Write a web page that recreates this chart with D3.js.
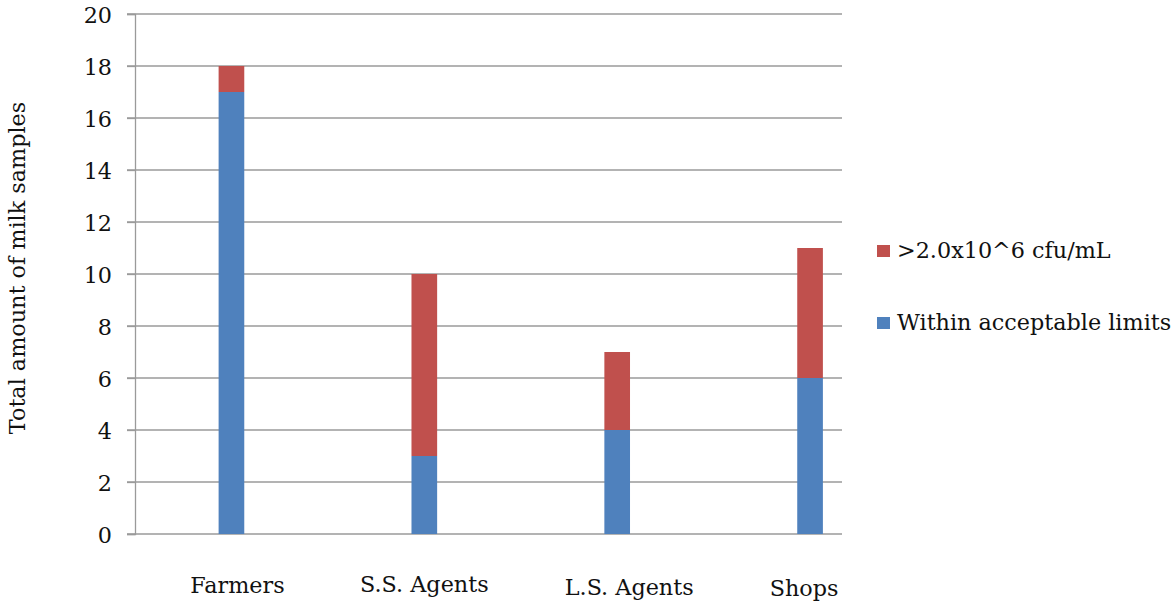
<!DOCTYPE html>
<html><head><meta charset="utf-8">
<script src="https://cdn.jsdelivr.net/npm/d3@7"></script>
<style>
html,body{margin:0;padding:0;background:#fff;}
svg{display:block;font-family:"DejaVu Serif",serif;}
</style></head>
<body>
<svg id="chart" width="1175" height="602"></svg>
<script>
const categories = ["Farmers", "S.S. Agents", "L.S. Agents", "Shops"];
const withinLimits = [17, 3, 4, 6];
const overLimit = [1, 7, 3, 5];
const seriesNames = ["Within acceptable limits", ">2.0x10^6 cfu/mL"];
const seriesColors = ["#4F81BD", "#C0504D"];
const yTicks = [0, 2, 4, 6, 8, 10, 12, 14, 16, 18, 20];
const yTitle = "Total amount of milk samples";

const svg = d3.select("#chart");
const fontSize = 22.3;
const textColor = "#111";
const plotLeft = 135, plotTop = 14, plotBottom = 534, gridRight = 842, bandRight = 906.5;

const y = d3.scaleLinear().domain([0, 20]).range([plotBottom, plotTop]);
const x = d3.scaleBand().domain(categories).range([plotLeft, bandRight])
  .paddingInner(0.867).paddingOuter(0.4335);

// gridlines
svg.append("g").selectAll("line").data(yTicks).join("line")
  .attr("x1", plotLeft - 8).attr("x2", gridRight)
  .attr("y1", d => y(d)).attr("y2", d => y(d))
  .attr("stroke", "#9a9a9a").attr("stroke-width", 1.3);

// y axis
const yAxis = d3.axisLeft(y).tickValues(yTicks).tickSize(8).tickPadding(15);
const gy = svg.append("g").attr("transform", `translate(${plotLeft},0)`).call(yAxis);
gy.select(".domain").attr("stroke", "#9a9a9a").attr("stroke-width", 1.3);
gy.selectAll(".tick line").attr("stroke", "#9a9a9a").attr("stroke-width", 1.3);
gy.selectAll(".tick text").attr("font-size", fontSize).attr("font-family", "DejaVu Serif")
  .attr("fill", textColor).attr("dy", "0.36em");

// stacked bars
const data = categories.map((c, i) => ({cat: c, within: withinLimits[i], over: overLimit[i]}));
const stack = d3.stack().keys(["within", "over"]);
const stacked = stack(data);
svg.append("g").selectAll("g").data(stacked).join("g")
  .attr("fill", (d, i) => seriesColors[i])
  .selectAll("rect").data(d => d).join("rect")
  .attr("x", d => x(d.data.cat))
  .attr("width", x.bandwidth())
  .attr("y", d => y(d[1]))
  .attr("height", d => y(d[0]) - y(d[1]));

// category labels
const labelDx = [6, 0, 12, -6];
const labelDy = [593, 592, 595, 596];
svg.append("g").selectAll("text").data(categories).join("text")
  .attr("x", (d, i) => x(d) + x.bandwidth() / 2 + labelDx[i])
  .attr("y", (d, i) => labelDy[i])
  .attr("text-anchor", "middle")
  .attr("font-size", fontSize).attr("fill", textColor)
  .text(d => d);

// y title
svg.append("text")
  .attr("transform", "translate(25,268) rotate(-90)")
  .attr("text-anchor", "middle")
  .attr("font-size", fontSize).attr("fill", textColor)
  .text(yTitle);

// legend (over-limit first)
const legendItems = [
  {name: seriesNames[1], color: seriesColors[1], y: 258},
  {name: seriesNames[0], color: seriesColors[0], y: 330}
];
const lg = svg.append("g").selectAll("g").data(legendItems).join("g");
lg.append("rect").attr("x", 877).attr("y", d => d.y - 13).attr("width", 13).attr("height", 12)
  .attr("fill", d => d.color);
lg.append("text").attr("x", 897).attr("y", d => d.y)
  .attr("font-size", fontSize).attr("fill", textColor)
  .text(d => d.name);
</script>
</body></html>
